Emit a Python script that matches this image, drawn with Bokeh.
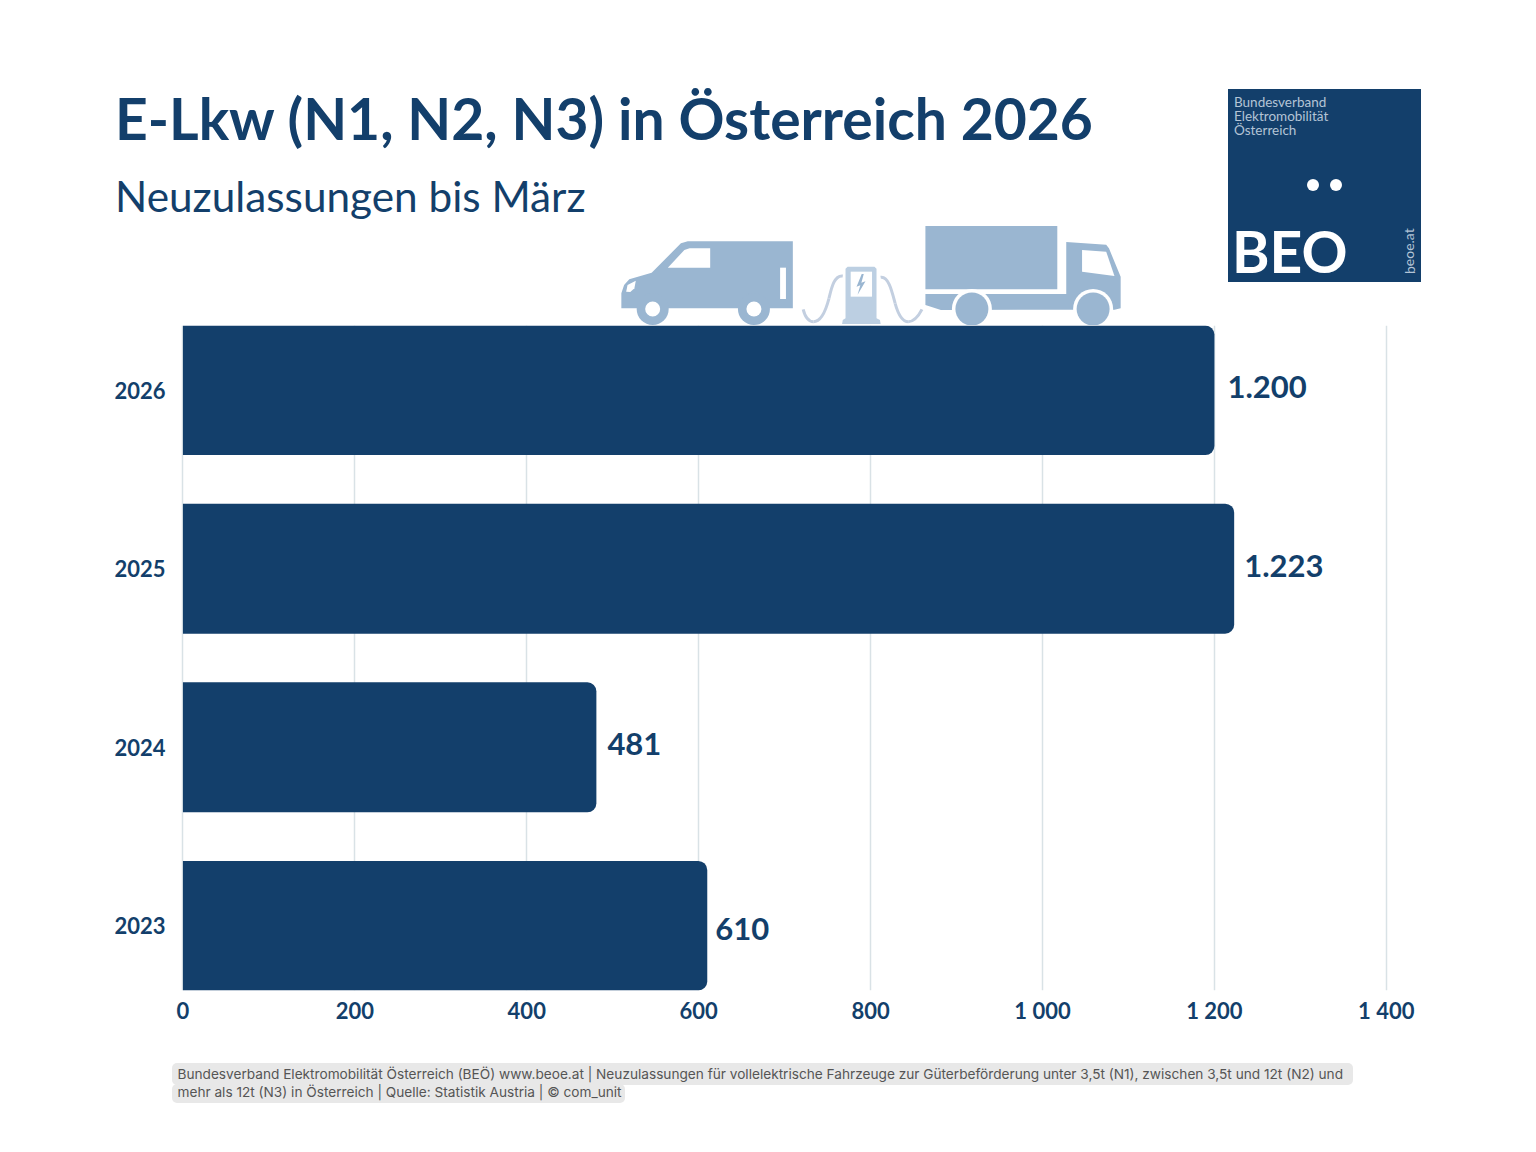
from bokeh.plotting import figure
from bokeh.layouts import column
from bokeh.models import ColumnDataSource, Range1d, FixedTicker
from bokeh.core.properties import value
from bokeh.embed import file_html
from bokeh.resources import INLINE

years = ["2026", "2025", "2024", "2023"]
registrations = [1200, 1223, 481, 610]
value_labels = ["1.200", "1.223", "481", "610"]
x_ticks = [0, 200, 400, 600, 800, 1000, 1200, 1400]
x_tick_labels = ["0", "200", "400", "600", "800", "1 000", "1 200", "1 400"]
title_text = "E-Lkw (N1, N2, N3) in Österreich 2026"
subtitle_text = "Neuzulassungen bis März"
footer_lines = [
    "Bundesverband Elektromobilität Österreich (BEÖ) www.beoe.at | Neuzulassungen für vollelektrische Fahrzeuge zur Güterbeförderung unter 3,5t (N1), zwischen 3,5t und 12t (N2) und",
    "mehr als 12t (N3) in Österreich | Quelle: Statistik Austria | © com_unit",
]

NAVY = "#133f6b"
ICON = "#9ab6d1"
ICON_L = "#bccfe2"
CABLE = "#c3cfe0"
GRID = "#d9e2e6"
FONT = "Lato"
W = 1520

def bare(height, y_top, y_bottom):
    f = figure(width=W, height=height, output_backend="svg", toolbar_location=None,
               x_range=Range1d(0.5, W + 0.5), y_range=Range1d(y_bottom, y_top),
               x_axis_location=None, y_axis_location=None, min_border=0,
               outline_line_color=None, background_fill_color="white", border_fill_color="white",
               frame_align=False)
    f.grid.visible = False
    return f

# ---------- header ----------
head = bare(325, 0.5, 325.5)
head.text(x=[115], y=[118], text=[title_text], text_font=value(FONT), text_font_style="bold",
          text_font_size="57px", text_color=NAVY, text_baseline="alphabetic")
head.text(x=[115], y=[195], text=[subtitle_text], text_font=value(FONT),
          text_font_size="42.3px", text_color=NAVY, text_baseline="alphabetic")

# logo
head.quad(left=[1228], right=[1421], top=[89], bottom=[282], fill_color=NAVY, line_color=None)
head.text(x=[1234, 1234, 1234], y=[102, 116, 130], text=["Bundesverband", "Elektromobilität", "Österreich"],
          text_font=value(FONT), text_font_size="13.5px", text_color="#b4c4d6", text_baseline="alphabetic")
head.circle(x=[1313, 1336], y=[185, 185], radius=6, fill_color="white", line_color=None)
head.text(x=[1232], y=[251], text=["BEO"], text_font=value(FONT), text_font_style="bold",
          text_font_size="57px", text_color="white", text_baseline="alphabetic")
head.text(x=[1409], y=[274], text=["beoe.at"], text_font=value(FONT), text_font_size="14px",
          text_color="#b4c4d6", text_baseline="alphabetic", angle=1.5708)

# icons: outlines traced on the reference
def px(points):
    return [600 + a / 2.904 for a, _ in points], [210 + b / 3 for _, b in points]

def poly(points, color):
    xs, ys = px(points)
    head.patch(xs, ys, fill_color=color, line_color=None)

def curve(points):
    xs, ys = px(points)
    head.bezier(x0=[xs[0]], y0=[ys[0]], x1=[xs[3]], y1=[ys[3]], cx0=[xs[1]], cy0=[ys[1]],
                cx1=[xs[2]], cy1=[ys[2]], line_color=CABLE, line_width=3)

poly([(62, 295), (62, 250), (70, 225), (85, 208), (150, 188), (235, 100), (255, 94), (560, 94),
      (560, 295)], ICON)
poly([(197, 173), (245, 120), (260, 115), (320, 115), (320, 173)], "white")
poly([(523, 173), (540, 173), (540, 267), (523, 267)], "white")
poly([(76, 245), (80, 225), (104, 212), (100, 235), (88, 246)], "white")
for zx in (153, 447):
    cx = 600 + zx / 2.904
    head.circle(x=[cx], y=[309], radius=16, fill_color=ICON, line_color=None)
    head.circle(x=[cx], y=[309], radius=7.5, fill_color="white", line_color=None)

# charging station
curve([(705, 198), (680, 195), (672, 235), (665, 265)])
curve([(665, 265), (655, 305), (640, 335), (620, 335)])
curve([(620, 335), (605, 335), (595, 318), (590, 298)])
curve([(815, 202), (838, 198), (848, 245), (857, 280)])
curve([(857, 280), (865, 310), (878, 335), (895, 335)])
curve([(895, 335), (912, 335), (925, 318), (935, 298)])
poly([(713, 176), (719, 170), (797, 170), (803, 176), (803, 325), (813, 330), (815, 342), (703, 342), (705, 330), (713, 325)], ICON_L)
poly([(728, 185), (790, 185), (790, 260), (728, 260)], "white")
poly([(760, 192), (745, 230), (756, 226), (748, 254), (771, 214), (759, 218), (766, 192)], ICON)

# truck
poly([(945, 48), (1328, 48), (1328, 238), (945, 238)], ICON)
poly([(945, 252), (1354, 252), (1354, 96), (1470, 104), (1478, 115), (1512, 200), (1512, 295), (1494, 299),
      (990, 300), (945, 285)], ICON)
poly([(1400, 120), (1470, 125), (1494, 198), (1400, 185)], "white")
for zx in (1080, 1432):
    cx = 600 + zx / 2.904
    head.circle(x=[cx], y=[309], radius=20, fill_color="white", line_color=None)
    head.circle(x=[cx], y=[309], radius=16.5, fill_color=ICON, line_color=None)

# ---------- main chart ----------
positions = [3, 2, 1, 0]
label_nudge = [13, 10, 11, 8]
label_shift = [-3, -3, -3, 3.5]
src = ColumnDataSource(dict(y=positions, v=registrations, t=value_labels, dx=label_nudge, dy=label_shift))
main = figure(width=W, height=715, output_backend="svg", toolbar_location=None,
              x_range=Range1d(-4, 1420), y_range=Range1d(-0.3613, 3.3613),
              min_border_left=179, min_border_right=117,
              min_border_top=0, min_border_bottom=50, outline_line_color=None,
              background_fill_color="white", border_fill_color="white", frame_align=False)
main.hbar(y="y", left=0, right="v", height=0.728, source=src, fill_color=NAVY, line_color=None,
          border_radius=(0, 9, 9, 0))
main.text(x="v", y="y", text="t", x_offset="dx", y_offset="dy", source=src, text_font=value(FONT),
          text_font_style="bold", text_font_size="31px", text_color=NAVY, text_baseline="middle")
main.xgrid.ticker = FixedTicker(ticks=x_ticks)
main.xgrid.grid_line_color = GRID
main.xgrid.grid_line_width = 1.5
main.ygrid.visible = False
main.xaxis.ticker = FixedTicker(ticks=x_ticks)
main.xaxis.major_label_overrides = dict(zip(x_ticks, x_tick_labels))
main.yaxis.ticker = FixedTicker(ticks=positions)
main.yaxis.major_label_overrides = dict(zip(positions, years))
for ax in (main.xaxis, main.yaxis):
    ax.axis_line_color = None
    ax.major_tick_line_color = None
    ax.minor_tick_line_color = None
    ax.major_label_text_font = FONT
    ax.major_label_text_font_style = "bold"
    ax.major_label_text_font_size = "22px"
    ax.major_label_text_color = NAVY
main.xaxis.major_label_standoff = 0
main.yaxis.major_label_standoff = 8

# ---------- footer ----------
foot = bare(104, 1040.5, 1144.5)
foot.quad(left=[172, 172], right=[1353, 625], top=[1063, 1084], bottom=[1085, 1103],
          fill_color="#e8e8e8", line_color=None, border_radius=5)
foot.text(x=[177.5, 177.5], y=[1074, 1092], text=footer_lines, text_font=value("Inter"),
          text_font_size="13.65px", text_color="#555555", text_baseline="alphabetic")

page = column(head, main, foot, spacing=0)
open("out.html", "w").write(file_html(page, INLINE))
